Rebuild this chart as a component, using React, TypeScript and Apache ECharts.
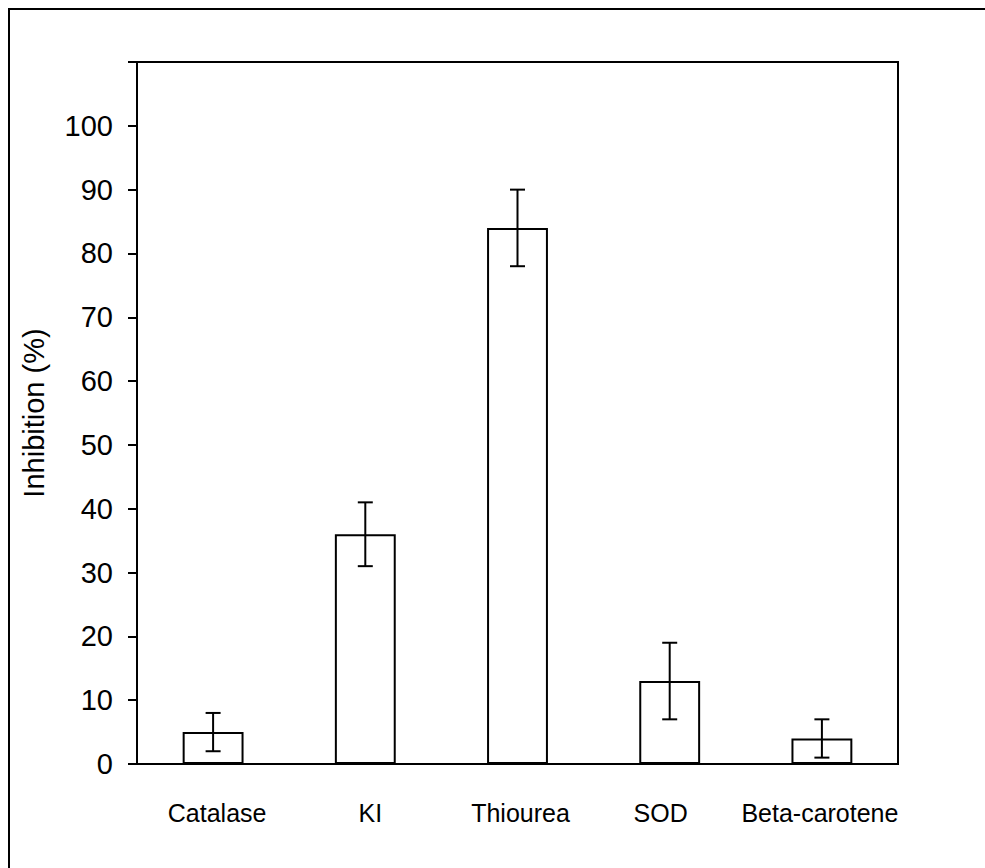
import React, { useEffect, useRef } from "react";
import * as echarts from "echarts";

const categories = ["Catalase", "KI", "Thiourea", "SOD", "Beta-carotene"];
const means = [5, 36, 84, 13, 4];
const errors = [3, 5, 6, 6, 3];
const yTicks = [0, 10, 20, 30, 40, 50, 60, 70, 80, 90, 100];
// horizontal nudges of category labels (px), style only
const labelNudge = [4, 5, 3, -9, -2];

const FONT = "Liberation Sans, Arial, sans-serif";

export default function App() {
  const ref = useRef<HTMLDivElement>(null);
  useEffect(() => {
    const chart = echarts.init(ref.current!, null, { renderer: "svg" });
    const errData = means.map((m, i) => [i, m - errors[i], m + errors[i]]);
    const xData = categories.map((c, i) => {
      const d = labelNudge[i];
      return {
        value: c,
        textStyle: { padding: d >= 0 ? [0, 0, 0, 2 * d] : [0, -2 * d, 0, 0] },
      };
    });
    chart.setOption({
      animation: false,
      backgroundColor: "#fff",
      textStyle: { fontFamily: FONT, color: "#000" },
      graphic: [
        {
          type: "rect",
          shape: { x: 9, y: 9, width: 1100, height: 1000 },
          style: { fill: "none", stroke: "#000", lineWidth: 2 },
          silent: true,
        },
      ],
      grid: {
        left: 137,
        top: 62,
        right: 87,
        bottom: 104,
        show: true,
        borderColor: "#000",
        borderWidth: 2,
        backgroundColor: "transparent",
      },
      xAxis: {
        type: "category",
        data: xData,
        axisLine: { lineStyle: { color: "#000", width: 2 } },
        axisTick: { show: false },
        axisLabel: {
          color: "#000",
          fontSize: 25,
          margin: 36,
          interval: 0,
          fontFamily: FONT,
        },
      },
      yAxis: {
        type: "value",
        min: 0,
        max: 110,
        interval: 10,
        name: "Inhibition (%)",
        nameLocation: "middle",
        nameGap: 89,
        nameTextStyle: { fontSize: 29, color: "#000", fontFamily: FONT },
        axisLine: { show: true, lineStyle: { color: "#000", width: 2 } },
        axisTick: { show: true, length: 9, lineStyle: { color: "#000", width: 2 } },
        splitLine: { show: false },
        axisLabel: {
          color: "#000",
          fontSize: 29,
          margin: 24,
          fontFamily: FONT,
          formatter: (v: number) => (yTicks.includes(v) ? String(v) : ""),
        },
      },
      series: [
        {
          type: "bar",
          data: means,
          barWidth: "40%",
          itemStyle: { color: "#fff", borderColor: "#000", borderWidth: 2 },
          silent: true,
        },
        {
          type: "custom",
          data: errData,
          z: 10,
          silent: true,
          renderItem: (params: any, api: any) => {
            const x = api.value(0);
            const lo = api.coord([x, api.value(1)]);
            const hi = api.coord([x, api.value(2)]);
            const hw = 7.5;
            const style = { stroke: "#000", lineWidth: 2 };
            return {
              type: "group",
              children: [
                { type: "line", shape: { x1: lo[0], y1: lo[1], x2: hi[0], y2: hi[1] }, style },
                { type: "line", shape: { x1: lo[0] - hw, y1: lo[1], x2: lo[0] + hw, y2: lo[1] }, style },
                { type: "line", shape: { x1: hi[0] - hw, y1: hi[1], x2: hi[0] + hw, y2: hi[1] }, style },
              ],
            };
          },
        },
      ],
    });
    return () => chart.dispose();
  }, []);
  return (
    <div
      ref={ref}
      style={{ position: "absolute", left: 0, top: 0, width: 985, height: 868 }}
    />
  );
}
